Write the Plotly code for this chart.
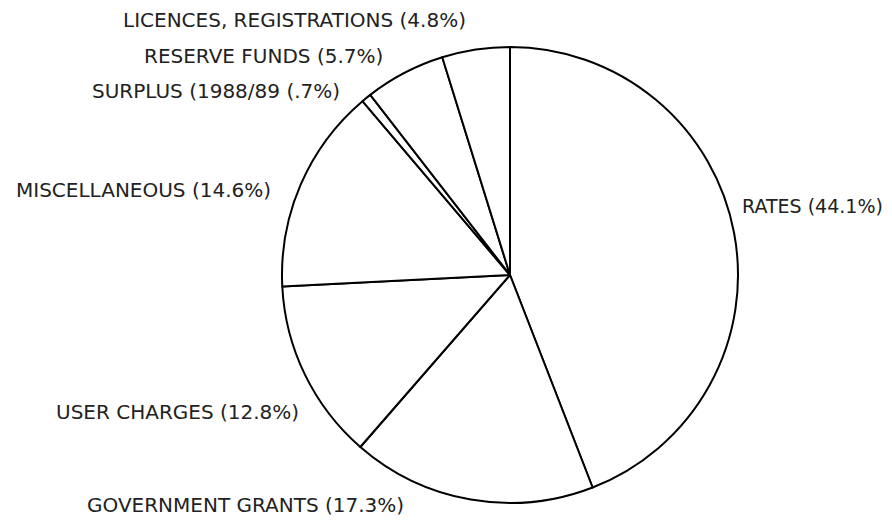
import plotly.graph_objects as go

W, H = 876, 508   # page body has an 8px margin inside the 892x524 window
OFF = 8

categories = ["RATES", "GOVERNMENT GRANTS", "USER CHARGES", "MISCELLANEOUS",
              "SURPLUS (1988/89", "RESERVE FUNDS", "LICENCES, REGISTRATIONS"]
values = [44.1, 17.3, 12.8, 14.6, 0.7, 5.7, 4.8]
value_labels = ["44.1%", "17.3%", "12.8%", "14.6%", ".7%", "5.7%", "4.8%"]

# label anchor positions (window pixels, x anchor side, vertical middle, font size)
label_pos = [(884, "right", 206, 19), (405, "right", 505, 20), (55, "left", 412, 20),
             (15, "left", 190, 20), (341, "right", 91, 20), (143, "left", 56, 20),
             (122, "left", 20, 20)]

cx, cy, r = 510 - OFF, 275 - OFF, 228

fig = go.Figure(go.Pie(
    labels=categories,
    values=values,
    sort=False,
    direction="clockwise",
    rotation=0,
    textinfo="none",
    hoverinfo="label+value",
    marker=dict(colors=["white"] * len(values), line=dict(color="black", width=2)),
    domain=dict(x=[(cx - r) / W, (cx + r) / W], y=[(H - cy - r) / H, (H - cy + r) / H]),
    showlegend=False,
))

for name, vl, (px, xa, py, fs) in zip(categories, value_labels, label_pos):
    fig.add_annotation(
        text=f"{name} ({vl})",
        x=(px - OFF) / W, y=1 - (py - OFF) / H, xref="paper", yref="paper",
        xanchor=xa, yanchor="middle", showarrow=False, borderpad=0,
        font=dict(family="DejaVu Sans", size=fs, color="#222222"),
    )

fig.update_layout(
    width=W, height=H,
    margin=dict(l=0, r=0, t=0, b=0),
    paper_bgcolor="white", plot_bgcolor="white",
)

fig.write_html("out.html")
